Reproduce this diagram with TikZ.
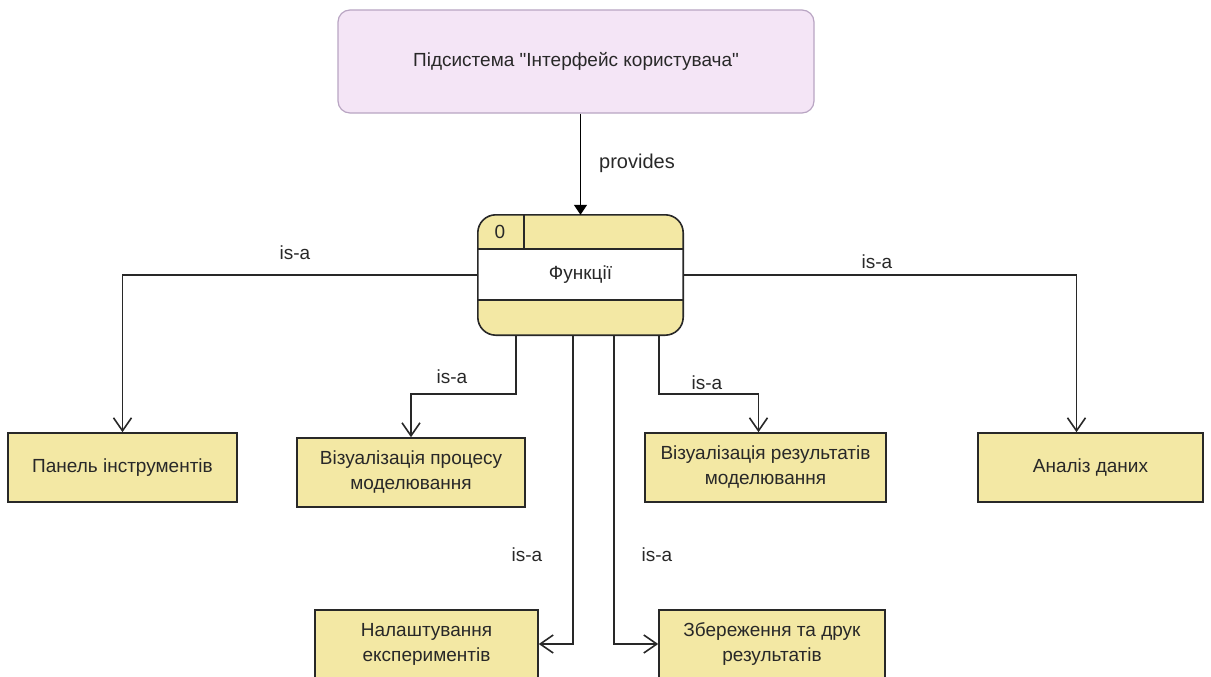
\documentclass[tikz,border=0pt]{standalone}
\usepackage{fontspec}
\setmainfont{Liberation Sans}[Ligatures=TeXOff]
\usetikzlibrary{arrows.meta,calc}
\definecolor{boxyellow}{RGB}{243,232,164}
\definecolor{lav}{RGB}{244,229,246}
\definecolor{lavline}{RGB}{185,165,195}
\definecolor{ink}{RGB}{40,40,40}
\begin{document}
\begin{tikzpicture}[x=1pt,y=-1pt,
  font=\fontsize{19}{25}\selectfont,
  ent/.style={draw=ink, line width=1.6pt, fill=boxyellow, minimum height=69pt, align=center, inner sep=0pt, text=ink},
  isa/.style={draw=ink, line width=1.6pt, -{Straight Barb[length=13pt,width=18pt]}},
  prov/.style={draw=black, line width=1.6pt, -{Triangle[length=10pt,width=13pt]}},
  lbl/.style={text=ink, inner sep=0pt}]
\useasboundingbox (0,0) rectangle (1211,677);
% top subsystem
\node[draw=lavline, fill=lav, rounded corners=12pt, line width=1.2pt, minimum width=476pt, minimum height=103pt, text=ink] (top) at (576,61.5) {Підсистема "Інтерфейс користувача"};
% functions box
\node[fill=boxyellow, rounded corners=18pt, minimum width=205pt, minimum height=120pt, inner sep=0pt] (fn) at (580.5,275) {};
\fill[white] ($(fn.north west)+(0,34)$) rectangle ($(fn.north east)+(0,85)$);
\draw[ink, line width=1.6pt] ($(fn.north west)+(0,34)$) -- ($(fn.north east)+(0,34)$);
\draw[ink, line width=1.6pt] ($(fn.north west)+(0,85)$) -- ($(fn.north east)+(0,85)$);
\draw[ink, line width=1.6pt] ($(fn.north west)+(46,0)$) -- ($(fn.north west)+(46,34)$);
\draw[ink, line width=1.6pt, rounded corners=18pt] (fn.north west) rectangle (fn.south east);
\node[lbl] (fnid) at (500,232) {0};
\node[lbl] (fntxt) at (fn.center) {Функції};
% provides
\draw[prov] (top.south -| fn.north) -- (fn.north);
\node[lbl, font=\fontsize{20}{25}\selectfont] (lprov) at (637,163) {provides};
% leaf boxes
\node[ent, minimum width=229pt] (panel) at (122.5,467.5) {Панель інструментів};
\node[ent, minimum width=228pt] (proc) at (411,472.5) {Візуалізація процесу\\моделювання};
\node[ent, minimum width=241pt] (vr) at (765.5,467.5) {Візуалізація результатів\\моделювання};
\node[ent, minimum width=225pt] (an) at (1090.5,467.5) {Аналіз даних};
\node[ent, minimum width=223pt, minimum height=68pt] (nal) at (426.5,644) {Налаштування\\експериментів};
\node[ent, minimum width=226pt, minimum height=68pt] (zb) at (772,644) {Збереження та друк\\результатів};
% connectors
\coordinate (s1) at ([xshift=38pt]fn.south west);
\coordinate (s2) at ([xshift=95pt]fn.south west);
\coordinate (s3) at ([xshift=136pt]fn.south west);
\coordinate (s4) at ([xshift=181pt]fn.south west);
\draw[isa] (fn.west) -| (panel.north);
\draw[isa] (fn.east) -| ([xshift=-14pt]an.north);
\draw[isa] (s1) -- ++(0,59) -| (proc.north);
\draw[isa] (s4) -- ++(0,59) -| ([xshift=-7pt]vr.north);
\draw[isa] (s2) |- (nal.east);
\draw[isa] (s3) |- (zb.west);
% labels
\node[lbl] (l1) at (295,253) {is-a};
\node[lbl] (l2) at (877,262) {is-a};
\node[lbl] (l3) at (452,377) {is-a};
\node[lbl] (l4) at (707,383) {is-a};
\node[lbl] (l5) at (527,555) {is-a};
\node[lbl] (l6) at (657,555) {is-a};
\end{tikzpicture}
\end{document}
